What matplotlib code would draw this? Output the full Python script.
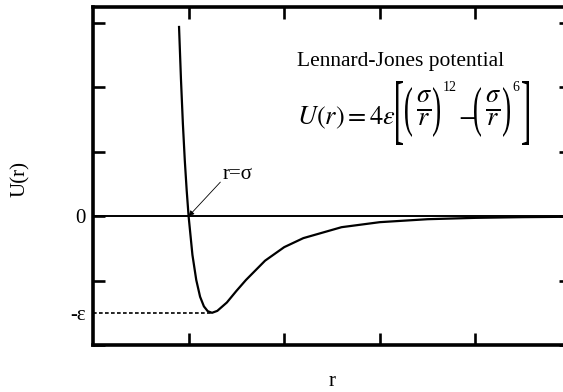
import matplotlib
matplotlib.use('Agg')
import matplotlib.pyplot as plt
from matplotlib.textpath import TextPath
from matplotlib.patches import PathPatch
from matplotlib.font_manager import FontProperties
from matplotlib.transforms import Affine2D

plt.rcParams['font.family'] = ['Liberation Serif', 'DejaVu Serif']
plt.rcParams['mathtext.fontset'] = 'stix'

# separation r (in units of sigma) and potential U(r) (tick units, well depth = 1.5)
r_vals = [0.95, 0.96, 0.97, 0.98, 0.99, 1.00, 1.02, 1.04, 1.06, 1.08, 1.10,
          1.1225, 1.15, 1.20, 1.25, 1.30, 1.40, 1.50, 1.60, 1.80, 2.00,
          2.25, 2.50, 2.75, 3.00]
u_vals = [2.94, 2.13, 1.44, 0.87, 0.40, 0.00, -0.60, -0.99, -1.25, -1.40, -1.475,
          -1.50, -1.47, -1.34, -1.16, -0.99, -0.69, -0.48, -0.34, -0.17, -0.092,
          -0.046, -0.025, -0.014, -0.008]
eps = 1.5
r_min = 1.1225
y_ticks = [-2, -1, 0, 1, 2, 3]
y_ticklabels = ['', '', '0', '', '', '']
x_ticks = [1.0, 1.5, 2.0, 2.5]

W, H = 563, 392
fig = plt.figure(figsize=(W / 100, H / 100), dpi=100)
ax = fig.add_axes([0.1652, 0.1199, 0.8490, 0.8622])

ax.plot(r_vals, u_vals, color='black', lw=1.6)
ax.axhline(0, color='black', lw=1.4)
ax.plot([0.5, r_min], [-eps, -eps], color='black', lw=1.2, dashes=(2.2, 1.4))

ax.set_xlim(0.5, 3.0)
ax.set_ylim(-2, 3.25)

ax.set_xticks(x_ticks)
ax.set_xticklabels([])
ax.set_yticks(y_ticks)
ax.set_yticklabels(y_ticklabels)
ax.set_yticks([-eps], minor=True)
ax.set_yticklabels(['-ε'], minor=True)
ax.tick_params(which='major', direction='in', length=8.4, width=1.9,
               top=True, right=True, labelsize=15, pad=5)
ax.tick_params(axis='y', which='minor', length=0, labelsize=15, pad=5)
ax.tick_params(axis='x', which='minor', bottom=False, top=False)

for sp in ax.spines.values():
    sp.set_linewidth(2.6)

ax.set_ylabel('U(r)', fontsize=15)
ax.yaxis.set_label_coords(-0.132, 0.491)
ax.set_xlabel('r', fontsize=15)
ax.xaxis.label.set_va('baseline')
ax.xaxis.set_label_coords(0.5, -0.122)

ax.text(1.177, 0.585, 'r=σ', fontsize=15, va='baseline', ha='left')
ax.annotate('', xy=(1.0, 0.0), xytext=(1.166, 0.53),
            arrowprops=dict(arrowstyle='-|>', color='black', lw=0.6,
                            mutation_scale=8, shrinkA=0, shrinkB=0))


# --- title and formula, placed in pixel units from the top-left corner ---
def px(x, y):
    return x / W, 1 - y / H


def glyph(ch, x0, y0, x1, y1):
    # stretch a serif glyph to fill the box (tall thin brackets)
    path = TextPath((0, 0), ch, size=20,
                    prop=FontProperties(family='Liberation Serif'))
    ext = path.get_extents()
    tr = (Affine2D().translate(-ext.x0, -ext.y0)
          .scale((x1 - x0) / ext.width, (y1 - y0) / ext.height)
          .translate(x0, H - y1).scale(1 / W, 1 / H))
    fig.add_artist(PathPatch(tr.transform_path(path), facecolor='black',
                             edgecolor='none', transform=fig.transFigure))


fig.text(*px(297, 66), 'Lennard-Jones potential', fontsize=15.5,
         va='baseline', ha='left')

fig.text(*px(297, 124), r'$U(r) = 4\varepsilon$', fontsize=19,
         va='baseline', ha='left')
glyph('[', 396, 81, 403, 145)
glyph('(', 405, 87, 412, 137)
fig.text(*px(423.5, 109), r'$\frac{\sigma}{r}$', fontsize=27,
         va='center', ha='center')
glyph(')', 433, 87, 440, 137)
fig.text(*px(443, 81), '12', fontsize=10, va='top', ha='left')
fig.text(*px(467.5, 117), r'$-$', fontsize=19, va='center', ha='center')
glyph('(', 474, 87, 481, 137)
fig.text(*px(493, 109), r'$\frac{\sigma}{r}$', fontsize=27,
         va='center', ha='center')
glyph(')', 503, 87, 510, 137)
fig.text(*px(512, 81), '6', fontsize=10, va='top', ha='left')
glyph(']', 522, 81, 529, 145)

fig.savefig('out.png', dpi=100)
